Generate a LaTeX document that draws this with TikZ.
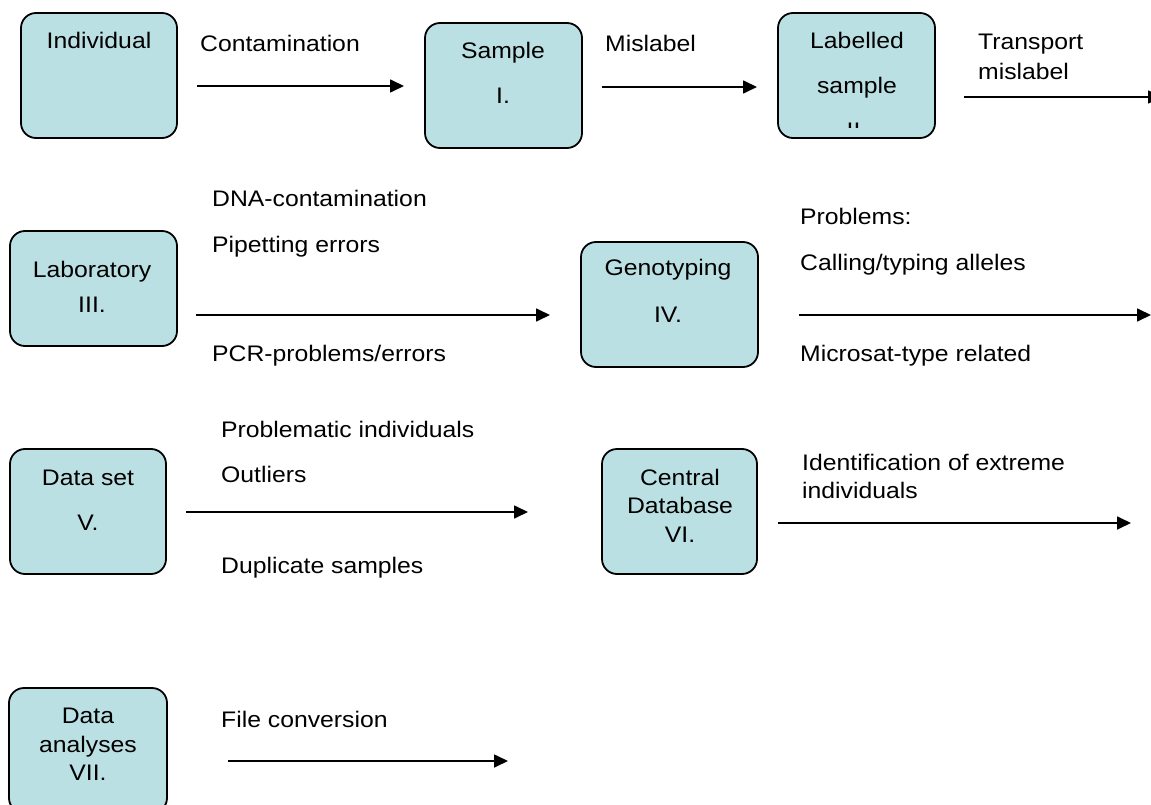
\documentclass[tikz,border=0pt]{standalone}
\usepackage{fontspec}
\setmainfont[FakeStretch=1.1]{Liberation Sans}
\usetikzlibrary{arrows.meta}
\definecolor{boxfill}{RGB}{187,224,227}
\tikzset{
  stagebox/.style={draw=black, line width=1.8pt, fill=boxfill, rounded corners=15pt,
    inner sep=0pt, outer sep=0pt},
  boxtext/.style={inner sep=0pt, anchor=base, font=\fontsize{22.5}{27}\selectfont},
  note/.style={inner sep=0pt, anchor=base west, font=\fontsize{22.5}{27}\selectfont},
  flow/.style={line width=1.7pt, -{Triangle[length=14pt,width=13pt]}},
}
\begin{document}
\begin{tikzpicture}[x=1pt,y=-1pt]
\useasboundingbox (0,0) rectangle (1151,805);
\clip (0,0) rectangle (1151,805);

% ---- row 1: individual -> sample -> labelled sample
\node[stagebox, minimum width=156pt, minimum height=125pt] (ind) at (99,75.5) {};
\node[boxtext] (indA) at (99,49) {Individual};

\node[stagebox, minimum width=157pt, minimum height=125pt] (smp) at (503.5,85.5) {};
\node[boxtext] (smpA) at (503,59) {Sample};
\node[boxtext] (smpB) at (503,104) {I.};

\node[stagebox, minimum width=157pt, minimum height=125pt] (lab) at (856.5,75.5) {};
\node[boxtext] (labA) at (857,49) {Labelled};
\node[boxtext] (labB) at (857,94) {sample};
\begin{scope}
  \clip (778,13) rectangle (935,128);
  \node[boxtext] (labC) at (857,139) {II.};
\end{scope}

\node[note] (tContam) at (200,52) {Contamination};
\coordinate (a1s) at (197,86); \coordinate (a1e) at (404,86);
\draw[flow] (a1s) -- (a1e);

\node[note] (tMislab) at (605,52) {Mislabel};
\coordinate (a2s) at (602,87); \coordinate (a2e) at (757,87);
\draw[flow] (a2s) -- (a2e);

\node[note] (tTransA) at (978,50) {Transport};
\node[note] (tTransB) at (978,80) {mislabel};
\coordinate (a3s) at (964,97); \coordinate (a3e) at (1162,97);
\draw[flow] (a3s) -- (a3e);

% ---- row 2: laboratory -> genotyping
\node[stagebox, minimum width=167pt, minimum height=115pt] (lbr) at (93.5,288.5) {};
\node[boxtext] (lbrA) at (92,277) {Laboratory};
\node[boxtext] (lbrB) at (92,312) {III.};

\node[note] (tDNA) at (212,207) {DNA-contamination};
\node[note] (tPip) at (212,252) {Pipetting errors};
\node[note] (tPCR) at (212,361) {PCR-problems/errors};
\coordinate (a4s) at (196,315); \coordinate (a4e) at (550,315);
\draw[flow] (a4s) -- (a4e);

\node[stagebox, minimum width=177pt, minimum height=125pt] (gen) at (669.5,304.5) {};
\node[boxtext] (genA) at (668,275) {Genotyping};
\node[boxtext] (genB) at (668,322) {IV.};

\node[note] (tProb) at (800,225) {Problems:};
\node[note] (tCall) at (800,270) {Calling/typing alleles};
\node[note] (tMicro) at (800,361) {Microsat-type related};
\coordinate (a5s) at (799,315); \coordinate (a5e) at (1151,315);
\draw[flow] (a5s) -- (a5e);

% ---- row 3: data set -> central database
\node[stagebox, minimum width=156pt, minimum height=125pt] (dset) at (88,511.5) {};
\node[boxtext] (dsetA) at (88,485) {Data set};
\node[boxtext] (dsetB) at (88,530) {V.};

\node[note] (tProbInd) at (221,437) {Problematic individuals};
\node[note] (tOut) at (221,482) {Outliers};
\node[note] (tDup) at (221,573) {Duplicate samples};
\coordinate (a6s) at (186,512); \coordinate (a6e) at (528,512);
\draw[flow] (a6s) -- (a6e);

\node[stagebox, minimum width=155pt, minimum height=125pt] (cdb) at (679.5,511.5) {};
\node[boxtext] (cdbA) at (680,485) {Central};
\node[boxtext] (cdbB) at (680,513) {Database};
\node[boxtext] (cdbC) at (680,542) {VI.};

\node[note] (tIdA) at (802,470) {Identification of extreme};
\node[note] (tIdB) at (802,498) {individuals};
\coordinate (a7s) at (778,523); \coordinate (a7e) at (1131,523);
\draw[flow] (a7s) -- (a7e);

% ---- row 4: data analyses
\node[stagebox, minimum width=158pt, minimum height=125pt] (ana) at (88,750.5) {};
\node[boxtext] (anaA) at (88,723) {Data};
\node[boxtext] (anaB) at (88,752) {analyses};
\node[boxtext] (anaC) at (88,780) {VII.};

\node[note] (tFile) at (221,727) {File conversion};
\coordinate (a8s) at (228,761); \coordinate (a8e) at (508,761);
\draw[flow] (a8s) -- (a8e);
\end{tikzpicture}
\end{document}
